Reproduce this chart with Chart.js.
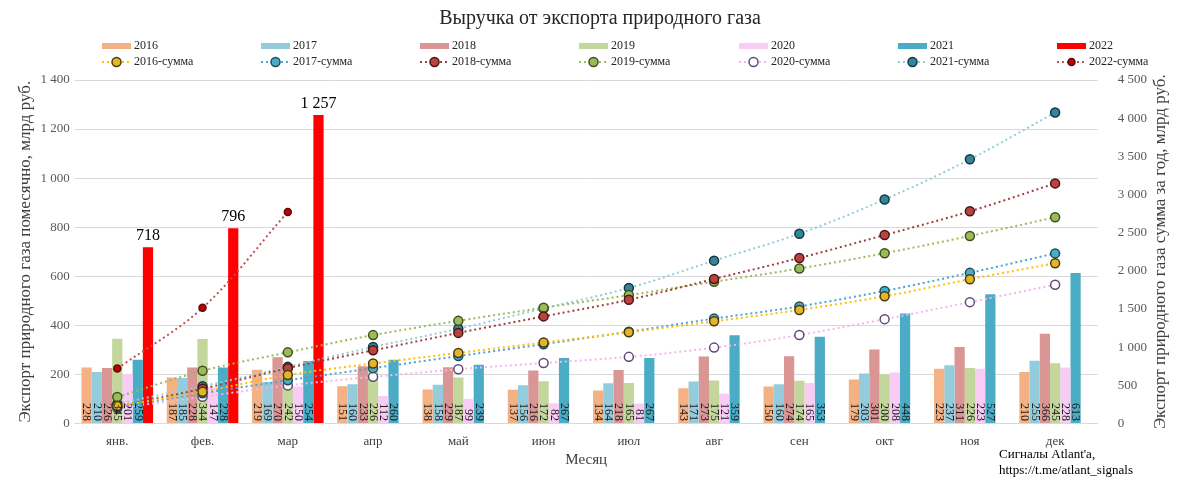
<!DOCTYPE html>
<html><head><meta charset="utf-8">
<script src="https://cdn.jsdelivr.net/npm/chart.js@4.4.0/dist/chart.umd.min.js"></script>
<style>html,body{margin:0;padding:0;background:#fff}#wrap{width:1200px;height:501px;position:relative}</style>
</head><body><div id="wrap"><canvas id="c" width="1200" height="501"></canvas></div>
<script>
const months = ["янв.","фев.","мар","апр","май","июн","июл","авг","сен","окт","ноя","дек"];
const v2016 = [228,187,219,151,138,137,134,143,150,179,223,210];
const v2017 = [210,185,169,160,158,156,164,171,160,203,237,255];
const v2018 = [226,228,270,233,229,216,218,273,274,301,311,366];
const v2019 = [345,344,242,226,187,172,165,175,174,200,226,245];
const v2020 = [201,147,150,112,99,82,81,121,165,208,223,228];
const v2021 = [259,228,254,260,239,267,267,359,353,448,527,613];
const v2022 = [718,796,1257];
const s2016 = [228,415,634,785,923,1060,1194,1337,1487,1666,1889,2099];
const s2017 = [210,395,564,724,882,1038,1202,1373,1533,1736,1973,2228];
const s2018 = [226,454,724,957,1186,1402,1620,1893,2167,2468,2779,3145];
const s2019 = [345,689,931,1157,1344,1516,1681,1856,2030,2230,2456,2701];
const s2020 = [201,348,498,610,709,791,872,993,1158,1366,1589,1817];
const s2021 = [259,487,741,1001,1240,1507,1774,2133,2486,2934,3461,4074];
const s2022 = [718,1514,2771];
const years = ["2016","2017","2018","2019","2020","2021","2022"];
const barVals = [v2016,v2017,v2018,v2019,v2020,v2021,v2022];
const sumVals = [s2016,s2017,s2018,s2019,s2020,s2021,s2022];
const leftTicks = [0,200,400,600,800,1000,1200,1400];
const rightTicks = [0,500,1000,1500,2000,2500,3000,3500,4000,4500];

const barColors = ["#F4B183","#93CDDD","#D99694","#C3D69B","#F9CCF5","#4BACC6","#FF0000"];
const lineColors = ["#FFC000","#4BA3D6","#A0403C","#9BBB59","#F4B6EC","#92CDDC","#C0504D"];
const markFill = ["#E3B52A","#4BACC6","#B8433F","#9BBB59","#FFFFFF","#31859C","#C00000"];
const markBorder = ["#4A3A10","#1F4E5F","#4A1515","#3F5020","#5F497A","#17363F","#5A0A0A"];
const SERIF = "'Liberation Serif','DejaVu Serif',serif";
const TITLE = 'Выручка от экспорта природного газа';
const fmt = v => String(v).replace(/\B(?=(\d{3})+(?!\d))/g,' ');

const datasets = [];
years.forEach((y,i)=>{
  datasets.push({type:'bar',label:y,data:barVals[i],backgroundColor:barColors[i],yAxisID:'y',order:2,
    categoryPercentage:0.84,barPercentage:1.0});
});
years.forEach((y,i)=>{
  datasets.push({type:'line',label:y+'-сумма',data:sumVals[i],yAxisID:'y2',order:1,
    borderColor:lineColors[i],borderWidth:2,borderDash:[2,3],fill:false,tension:0.35,
    pointRadius:i===6?3.5:4.5,pointBackgroundColor:markFill[i],pointBorderColor:markBorder[i],pointBorderWidth:1.5});
});

const extras = {
  id:'extras',
  afterDatasetsDraw(chart){
    const ctx = chart.ctx;
    ctx.save();
    ctx.font = "12px "+SERIF;
    ctx.fillStyle = "#1a1a1a";
    ctx.textBaseline = 'middle';
    ctx.textAlign = 'right';
    for(let d=0; d<6; d++){
      const meta = chart.getDatasetMeta(d);
      meta.data.forEach((el,k)=>{
        ctx.save();
        ctx.translate(el.x, el.base - 2);
        ctx.rotate(Math.PI/2);
        ctx.fillText(fmt(barVals[d][k]), 0, 0);
        ctx.restore();
      });
    }
    const m7 = chart.getDatasetMeta(6);
    ctx.font = "16px "+SERIF;
    ctx.fillStyle = "#000";
    ctx.textAlign = 'center';
    ctx.textBaseline = 'bottom';
    m7.data.forEach((el,k)=>{ ctx.fillText(fmt(v2022[k]), el.x, el.y - 3); });
    ctx.restore();
  },
  afterDraw(chart){
    const ctx = chart.ctx;
    ctx.save();
    // title
    ctx.font = "20px "+SERIF;
    ctx.fillStyle = "#262626";
    ctx.textAlign = 'center';
    ctx.textBaseline = 'middle';
    ctx.fillText(TITLE, 600, 19);
    // legend
    const cols = [102, 261, 420, 579, 739, 898, 1057];
    ctx.font = "12px "+SERIF;
    ctx.textBaseline = 'middle';
    ctx.textAlign = 'left';
    for(let i=0;i<7;i++){
      const x = cols[i];
      ctx.fillStyle = barColors[i];
      ctx.fillRect(x, 43, 29, 6);
      ctx.fillStyle = "#262626";
      ctx.fillText(years[i], x+32, 46);
      ctx.strokeStyle = lineColors[i];
      ctx.lineWidth = 2;
      ctx.setLineDash([2,3]);
      ctx.beginPath(); ctx.moveTo(x, 62); ctx.lineTo(x+29, 62); ctx.stroke();
      ctx.setLineDash([]);
      ctx.beginPath(); ctx.arc(x+14.5, 62, i===6?3.5:4.5, 0, Math.PI*2);
      ctx.fillStyle = markFill[i]; ctx.fill();
      ctx.lineWidth = 1.5; ctx.strokeStyle = markBorder[i]; ctx.stroke();
      ctx.fillStyle = "#262626";
      ctx.fillText(years[i]+'-сумма', x+32, 62);
    }
    // right axis title (reads bottom-to-top)
    const ca = chart.chartArea;
    ctx.save();
    ctx.translate(1161, (ca.top+ca.bottom)/2);
    ctx.rotate(-Math.PI/2);
    ctx.font = "17px "+SERIF;
    ctx.fillStyle = "#404040";
    ctx.textAlign = 'center';
    ctx.textBaseline = 'middle';
    ctx.fillText('Экспорт природного газа сумма за год, млрд руб.', 0, 0);
    ctx.restore();
    // credit text
    ctx.font = "13px "+SERIF;
    ctx.fillStyle = "#000";
    ctx.textAlign = 'left';
    ctx.textBaseline = 'alphabetic';
    ctx.fillText("Сигналы Atlant'a,", 999, 458);
    ctx.fillText("https://t.me/atlant_signals", 999, 474);
    ctx.restore();
  }
};

new Chart(document.getElementById('c'), {
  data:{labels:months, datasets},
  options:{
    responsive:false, animation:false,
    layout:{padding:{left:15,right:41,top:0,bottom:28}},
    plugins:{
      legend:{display:false},
      tooltip:{enabled:false},
      title:{display:true,text:TITLE,color:'rgba(0,0,0,0)',
        font:{family:SERIF,size:20,weight:'normal'},padding:{top:8,bottom:48}}
    },
    scales:{
      x:{grid:{display:false},border:{display:true,color:'#D9D9D9'},
        ticks:{color:'#404040',font:{family:SERIF,size:13},padding:2},
        title:{display:true,text:'Месяц',color:'#404040',font:{family:SERIF,size:15},padding:{top:0}}},
      y:{position:'left',min:0,max:1400,afterBuildTicks:(s)=>{s.ticks=leftTicks.map(v=>({value:v}));},
        grid:{color:'#D9D9D9',drawTicks:false},border:{display:false},
        ticks:{color:'#595959',font:{family:SERIF,size:13},padding:5,callback:v=>fmt(v)},
        title:{display:true,text:'Экспорт природного газа помесячно, млрд руб.',color:'#404040',font:{family:SERIF,size:17},padding:{top:0,bottom:0}}},
      y2:{position:'right',min:0,max:4500,afterBuildTicks:(s)=>{s.ticks=rightTicks.map(v=>({value:v}));},
        grid:{display:false},border:{display:false},
        ticks:{color:'#595959',font:{family:SERIF,size:13},padding:12,callback:v=>fmt(v)}}
    }
  },
  plugins:[extras]
});
</script></body></html>
